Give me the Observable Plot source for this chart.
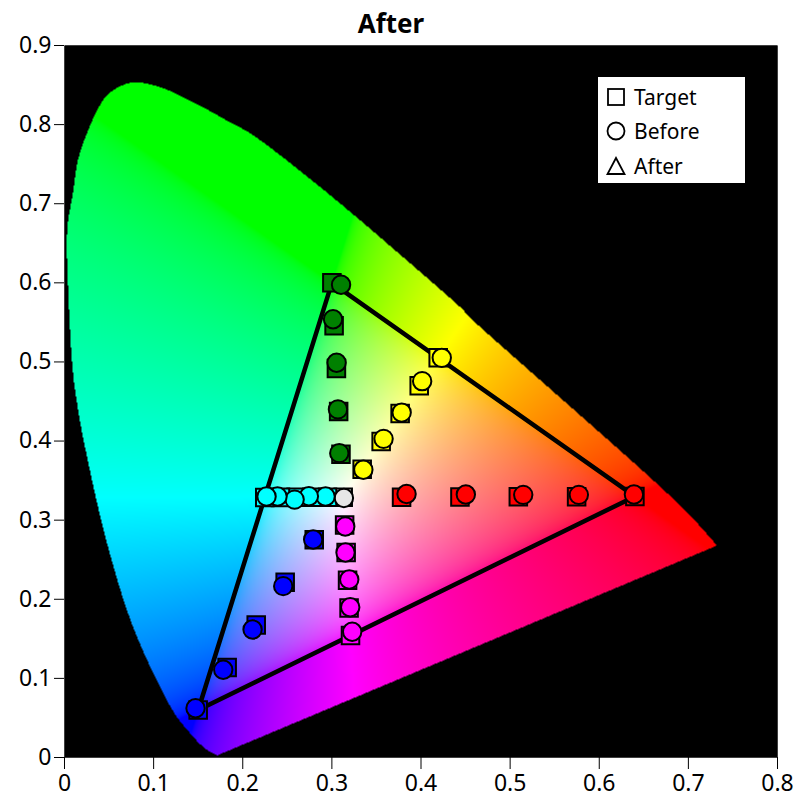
<!DOCTYPE html>
<html><head><meta charset="utf-8">
<script src="https://cdn.jsdelivr.net/npm/d3@7"></script>
<script src="https://cdn.jsdelivr.net/npm/@observablehq/plot@0.6"></script>
<style>
body{margin:0;background:#fff;font-family:"Noto Sans",sans-serif;}
#wrap{position:relative;width:795px;height:811px;}
#title{position:absolute;left:0;top:5px;width:782px;text-align:center;font-weight:bold;font-size:26px;color:#000;}
#legend{position:absolute;left:598px;top:77px;width:147px;height:106px;background:#fff;font-size:21px;color:#000;}
#legend .item{position:absolute;left:8px;height:30px;display:flex;align-items:center;}
#legend svg{margin-right:8px;}
</style></head><body>
<div id="wrap"><div id="title">After</div></div>
<script>
// Spectral locus outline (x, y chromaticity)
const locusX = [0.171,0.156,0.140,0.119,0.088,0.066,0.044,0.027,0.016,0.0086,0.0037,0.003,0.0093,0.0150,0.0255,0.0385,0.0516,0.076,0.1077,0.145,0.1825,0.22,0.30,0.3845,0.4443,0.4705,0.6687,0.7323];
const locusY = [0.0025,0.013,0.032,0.064,0.135,0.200,0.287,0.371,0.4345,0.498,0.603,0.666,0.7126,0.7547,0.790,0.822,0.841,0.853,0.8473,0.828,0.805,0.78,0.709,0.628,0.569,0.540,0.342,0.268];

// Series (saturation 20..100%), target and before chromaticities
const seriesNames = ["White","Red","Green","Blue","Cyan","Magenta","Yellow"];
const seriesColors = ["#e6e6e6","#ff0000","#008000","#0000ff","#00ffff","#ff00ff","#ffff00"];
const targetXs = [
  [0.3127],
  [0.3782,0.4437,0.5092,0.5746,0.6400],
  [0.3102,0.3076,0.3051,0.3025,0.3000],
  [0.2802,0.2476,0.2151,0.1825,0.1500],
  [0.2951,0.2775,0.2599,0.2423,0.2247],
  [0.3143,0.3160,0.3176,0.3193,0.3209],
  [0.3340,0.3553,0.3766,0.3980,0.4193]
];
const targetYs = [
  [0.3290],
  [0.3290,0.3292,0.3295,0.3297,0.3300],
  [0.3832,0.4374,0.4916,0.5458,0.6000],
  [0.2752,0.2214,0.1676,0.1138,0.0600],
  [0.3290,0.3289,0.3289,0.3288,0.3287],
  [0.2940,0.2591,0.2241,0.1891,0.1542],
  [0.3643,0.3995,0.4348,0.4700,0.5053]
];
const beforeXs = [
  [0.3135],
  [0.3838,0.4503,0.5147,0.5771,0.6389],
  [0.3083,0.3068,0.3053,0.3013,0.3103],
  [0.2790,0.2454,0.2110,0.1781,0.1470],
  [0.2929,0.2742,0.2582,0.2390,0.2267],
  [0.3150,0.3153,0.3195,0.3206,0.3228],
  [0.3353,0.3580,0.3783,0.4013,0.4233]
];
const beforeYs = [
  [0.3280],
  [0.3330,0.3325,0.3320,0.3320,0.3325],
  [0.3847,0.4400,0.4990,0.5540,0.5975],
  [0.2756,0.2166,0.1618,0.1109,0.0623],
  [0.3300,0.3303,0.3260,0.3300,0.3300],
  [0.2920,0.2591,0.2250,0.1900,0.1590],
  [0.3637,0.4028,0.4360,0.4757,0.5052]
];
// Gamut triangle (target primaries)
const gamutX = [0.64,0.30,0.15,0.64];
const gamutY = [0.33,0.60,0.06,0.33];
const xTicks = [0,0.1,0.2,0.3,0.4,0.5,0.6,0.7,0.8];
const yTicks = [0,0.1,0.2,0.3,0.4,0.5,0.6,0.7,0.8,0.9];

// Smooth the traced outline (Catmull-Rom) for the clipping test
function smoothOutline(px, py, steps){
  const P = px.map((x,i)=>[x,py[i]]), n = P.length, out = [];
  for (let i = 0; i < n-1; ++i){
    const p0 = P[Math.max(0,i-1)], p1 = P[i], p2 = P[i+1], p3 = P[Math.min(n-1,i+2)];
    for (let s = 0; s < steps; ++s){
      const t = s/steps, t2 = t*t, t3 = t2*t;
      out.push([0,1].map(k => 0.5*((2*p1[k]) + (-p0[k]+p2[k])*t + (2*p0[k]-5*p1[k]+4*p2[k]-p3[k])*t2 + (-p0[k]+3*p1[k]-3*p2[k]+p3[k])*t3)));
    }
  }
  out.push(P[n-1]);
  return out;
}
const locus = smoothOutline(locusX, locusY, 12);
const gamut = gamutX.map((x,i)=>({x, y: gamutY[i]}));
function rows(xs, ys){
  const out=[];
  seriesNames.forEach((s,k)=>xs[k].forEach((x,i)=>out.push({series:s,x,y:ys[k][i],color:seriesColors[k]})));
  return out;
}
const targets = rows(targetXs, targetYs);
const befores = rows(beforeXs, beforeYs);

function gam(c){ return c <= 0.0031308 ? 12.92*c : 1.055*Math.pow(c,1/2.4)-0.055; }
function xyColor(x, y){
  if (!d3.polygonContains(locus, [x,y])) return "#000000";
  const X = x/y, Y = 1, Z = (1-x-y)/y;
  let r = 3.2406*X - 1.5372*Y - 0.4986*Z;
  let g = -0.9689*X + 1.8758*Y + 0.0415*Z;
  let b = 0.0557*X - 0.2040*Y + 1.0570*Z;
  r=Math.max(0,r); g=Math.max(0,g); b=Math.max(0,b);
  const m = Math.max(r,g,b) || 1;
  return `rgb(${Math.round(255*gam(r/m))},${Math.round(255*gam(g/m))},${Math.round(255*gam(b/m))})`;
}
const fmt = d => d === 0 ? "0" : d.toFixed(1);

const chart = Plot.plot({
  width: 795, height: 811,
  marginLeft: 64, marginRight: 18, marginTop: 45, marginBottom: 54,
  style: {fontFamily: "Noto Sans, sans-serif", fontSize: "23px", color: "#000", background: "#fff"},
  x: {domain: [0, 0.8], label: null},
  y: {domain: [0, 0.9], label: null},
  color: {type: "identity"},
  marks: [
    Plot.frame({fill: "#000"}),
    Plot.raster({x1: 0, x2: 0.8, y1: 0, y2: 0.9, fill: xyColor, pixelSize: 1}),
    Plot.line(gamut, {x: "x", y: "y", stroke: "#000", strokeWidth: 4.5, strokeLinejoin: "round"}),
    Plot.dot(targets, {x: "x", y: "y", symbol: "square", r: 9.9, fill: "color", stroke: "#000", strokeWidth: 2}),
    Plot.dot(befores, {x: "x", y: "y", symbol: "circle", r: 9.2, fill: "color", stroke: "#000", strokeWidth: 2}),
    Plot.axisX({ticks: xTicks, tickFormat: fmt, tickSize: 12, tickPadding: 5, fontSize: 23}),
    Plot.axisY({ticks: yTicks, tickFormat: fmt, tickSize: 10, tickPadding: 3, fontSize: 23})
  ]
});
const wrap = document.getElementById("wrap");
wrap.insertBefore(chart, wrap.firstChild);

// Legend overlay
const legend = document.createElement("div");
legend.id = "legend";
const items = [
  {label: "Target", shape: '<rect x="2" y="2" width="16" height="16" fill="none" stroke="#000" stroke-width="1.8"/>', top: 5},
  {label: "Before", shape: '<circle cx="10" cy="10" r="8.5" fill="none" stroke="#000" stroke-width="1.8"/>', top: 39},
  {label: "After", shape: '<path d="M10 2 L18.5 18 L1.5 18 Z" fill="none" stroke="#000" stroke-width="1.8"/>', top: 74}
];
items.forEach(it => {
  const d = document.createElement("div");
  d.className = "item";
  d.style.top = it.top + "px";
  d.innerHTML = `<svg width="20" height="20">${it.shape}</svg><span>${it.label}</span>`;
  legend.appendChild(d);
});
wrap.appendChild(legend);
</script>
</body></html>
